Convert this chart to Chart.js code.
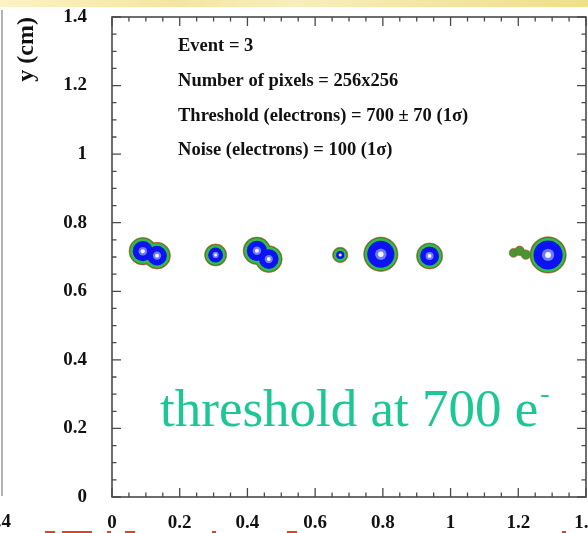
<!DOCTYPE html>
<html>
<head>
<meta charset="utf-8">
<script src="https://cdn.jsdelivr.net/npm/chart.js@4/dist/chart.umd.min.js"></script>
<style>
  html, body { margin: 0; padding: 0; background: #ffffff; }
  #wrap { width: 588px; height: 533px; }
</style>
</head>
<body>
<div id="wrap"><canvas id="c" width="588" height="533"></canvas></div>
<script>
// ---- data ----
// cluster hit centres (cm) and blue-core radii (cm)
const hitX = [0.091, 0.133, 0.306, 0.428, 0.463, 0.674, 0.794, 0.938, 1.288];
const hitY = [0.717, 0.704, 0.706, 0.718, 0.694, 0.706, 0.708, 0.703, 0.706];
const hitR = [0.030, 0.029, 0.022, 0.030, 0.029, 0.012, 0.040, 0.028, 0.043];
// low-charge tail of the last cluster
const tailX = [1.186, 1.204, 1.222];
const tailY = [0.712, 0.718, 0.707];
const tailR = [0.007, 0.008, 0.008];
// axis tick labels
const xTickLabels = ['0', '0.2', '0.4', '0.6', '0.8', '1', '1.2', '1.4'];
const yTickLabels = ['0', '0.2', '0.4', '0.6', '0.8', '1', '1.2', '1.4'];
// annotation text
const infoLines = [
  'Event = 3',
  'Number of pixels = 256x256',
  'Threshold (electrons) = 700 \u00b1 70 (1\u03c3)',
  'Noise (electrons) = 100 (1\u03c3)'
];
const infoY = [1.315, 1.212, 1.110, 1.010];
const infoX = 0.195;
const bigText = 'threshold at 700 e';
const bigSup = '-';
const bigX = 0.142;
const bigY = 0.208;

const pts = (xs, ys) => xs.map((x, i) => ({x: x, y: ys[i]}));
function radiusFrom(arr, extra) {
  return function (c) {
    const s = c.chart.scales.x;
    if (!s) return 3;
    const r = arr[c.dataIndex];
    return Math.max(1, s.getPixelForValue(r) - s.getPixelForValue(0) + extra);
  };
}
function coreFrac(arr, frac) {
  return function (c) {
    const s = c.chart.scales.x;
    if (!s) return 1;
    const r = arr[c.dataIndex];
    return Math.max(1.2, (s.getPixelForValue(r) - s.getPixelForValue(0)) * frac);
  };
}

const serif = '"Liberation Serif", "Times New Roman", serif';

const decorPlugin = {
  id: 'decor',
  beforeDraw(chart) {
    const ctx = chart.ctx;
    ctx.save();
    ctx.fillStyle = '#ffffff';
    ctx.fillRect(0, 0, chart.width, chart.height);
    const g = ctx.createLinearGradient(0, 0, chart.width, 0);
    g.addColorStop(0, '#fbf2c6');
    g.addColorStop(0.3, '#f4e6a0');
    g.addColorStop(0.5, '#f7eebe');
    g.addColorStop(0.8, '#f2e49c');
    g.addColorStop(1, '#efe08a');
    ctx.fillStyle = g;
    ctx.fillRect(0, 0, chart.width, 7);
    // edge of neighbouring panel
    ctx.strokeStyle = '#9a9a9a';
    ctx.lineWidth = 1.5;
    ctx.beginPath();
    ctx.moveTo(2, 10);
    ctx.lineTo(2, 496);
    ctx.stroke();
    ctx.restore();
  },
  afterDraw(chart) {
    const ctx = chart.ctx;
    const a = chart.chartArea;
    const xs = chart.scales.x, ys = chart.scales.y;
    ctx.save();
    // frame
    ctx.strokeStyle = '#4a4a4a';
    ctx.lineWidth = 1.6;
    ctx.strokeRect(a.left, a.top, a.right - a.left, a.bottom - a.top);
    // inward ticks on all sides
    ctx.lineWidth = 1.3;
    ctx.beginPath();
    for (let i = 0; i <= 28; i++) {
      const v = i * 0.05;
      const major = (i % 4 === 0);
      const L = major ? 9 : 4.5;
      const px = xs.getPixelForValue(v);
      ctx.moveTo(px, a.bottom); ctx.lineTo(px, a.bottom - L);
      ctx.moveTo(px, a.top); ctx.lineTo(px, a.top + L);
      const py = ys.getPixelForValue(v);
      ctx.moveTo(a.left, py); ctx.lineTo(a.left + L, py);
      ctx.moveTo(a.right, py); ctx.lineTo(a.right - L, py);
    }
    ctx.stroke();
    // info text
    ctx.fillStyle = '#111111';
    ctx.font = 'bold 18.5px ' + serif;
    ctx.textAlign = 'left';
    ctx.textBaseline = 'middle';
    infoLines.forEach((t, i) => {
      ctx.fillText(t, xs.getPixelForValue(infoX), ys.getPixelForValue(infoY[i]));
    });
    // big green text
    ctx.fillStyle = '#1dc795';
    ctx.font = '53px ' + serif;
    ctx.textBaseline = 'alphabetic';
    const bx = xs.getPixelForValue(bigX), by = ys.getPixelForValue(bigY);
    ctx.fillText(bigText, bx, by);
    const w = ctx.measureText(bigText).width;
    ctx.font = '28px ' + serif;
    ctx.fillText(bigSup, bx + w + 2, by - 24);
    // fragment of neighbouring panel label
    ctx.fillStyle = '#111111';
    ctx.font = 'bold 19px ' + serif;
    ctx.textAlign = 'right';
    ctx.textBaseline = 'middle';
    ctx.fillText('1.4', 11, 522);
    // tops of red caption letters cut off at the bottom edge
    ctx.fillStyle = '#e8401a';
    [[45, 10], [62, 30], [107, 4], [125, 10], [212, 4], [287, 10], [562, 4]].forEach(r => {
      ctx.fillRect(r[0], 531, r[1], 2);
    });
    ctx.restore();
  }
};

// datasets listed top-most first (Chart.js draws index 0 last)
new Chart(document.getElementById('c'), {
  type: 'scatter',
  data: {
    datasets: [
      { data: pts(hitX, hitY), pointRadius: coreFrac(hitR, 0.2), backgroundColor: '#f4f6ff', borderWidth: 0 },
      { data: pts(hitX, hitY), pointRadius: coreFrac(hitR, 0.42), backgroundColor: '#6f7cf8', borderWidth: 0 },
      { data: pts(hitX, hitY), pointRadius: radiusFrom(hitR, 0), backgroundColor: '#0c12f2', borderWidth: 0 },
      { data: pts(hitX, hitY), pointRadius: radiusFrom(hitR, 2.5), backgroundColor: '#2fbf45', borderWidth: 0 },
      { data: pts(tailX, tailY), pointRadius: radiusFrom(tailR, 2), backgroundColor: '#3f9a33', borderColor: 'rgba(200,70,40,0.7)', borderWidth: 1 },
      { data: pts(hitX, hitY), pointRadius: radiusFrom(hitR, 3.6), backgroundColor: '#3e7d2a', borderColor: 'rgba(215,70,50,0.6)', borderWidth: 1 }
    ]
  },
  options: {
    responsive: false,
    animation: false,
    devicePixelRatio: 1,
    events: [],
    layout: { padding: { left: 0, right: 2, top: 17, bottom: 0 } },
    plugins: { legend: { display: false }, tooltip: { enabled: false } },
    elements: { point: { pointStyle: 'circle', hoverRadius: 0 } },
    scales: {
      x: {
        type: 'linear', min: 0, max: 1.4,
        grid: { display: false, drawTicks: false },
        border: { display: false },
        ticks: {
          stepSize: 0.2, padding: 15, color: '#111111', maxRotation: 0, autoSkip: false,
          font: { family: serif, size: 19, weight: 'bold' },
          callback: (v, i) => xTickLabels[i]
        },
        afterFit: s => { s.height = 36; s.paddingLeft = 0; s.paddingRight = 0; }
      },
      y: {
        type: 'linear', min: 0, max: 1.4,
        grid: { display: false, drawTicks: false },
        border: { display: false },
        ticks: {
          stepSize: 0.2, padding: 25, color: '#111111', autoSkip: false,
          font: { family: serif, size: 19, weight: 'bold' },
          callback: (v, i) => yTickLabels[i]
        },
        title: {
          display: true, text: 'y (cm)', align: 'end', color: '#111111',
          font: { family: serif, size: 24, weight: 'bold' },
          padding: { top: 12, bottom: 0 }
        },
        afterFit: s => { s.width = 112; s.paddingTop = 0; s.paddingBottom = 0; }
      }
    }
  },
  plugins: [decorPlugin]
});
</script>
</body>
</html>
